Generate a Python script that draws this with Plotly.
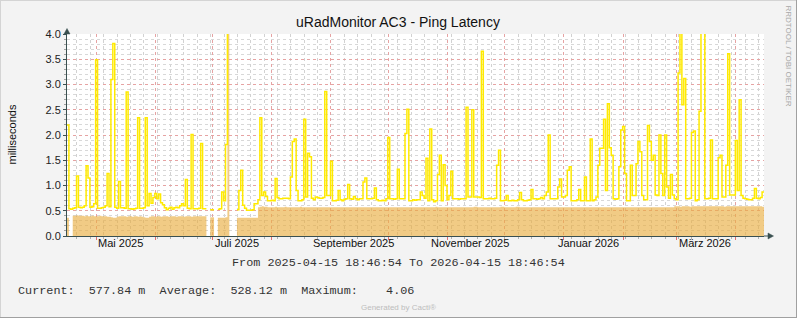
import plotly.graph_objects as go
import pandas as pd

# ---------------- data (daily consolidated values, milliseconds) ----------------
START = "2025-04-15 18:46:54"
END = "2026-04-15 18:46:54"

ping_max = [
    2.20, 0.54, 0.53, 0.55, 0.56, 1.19, 0.57, 0.56, 0.57, 0.60,
    1.39, 1.15, 0.57, 0.58, 0.64, 3.49, 0.55, 0.55, 0.56, 0.57,
    0.60, 1.24, 0.58, 3.10, 3.81, 0.57, 0.55, 1.08, 0.56, 0.56,
    0.55, 2.85, 0.54, 0.54, 0.53, 0.54, 0.55, 2.34, 0.55, 0.55,
    0.56, 2.34, 0.60, 0.84, 0.65, 0.76, 0.84, 0.74, 0.83, 0.66,
    0.62, 0.56, 0.52, 0.55, 0.57, 0.53, 0.56, 0.57, 0.56, 0.60,
    0.64, 0.60, 1.12, 0.55, 0.54, 2.01, 0.54, 0.54, 0.54, 0.55,
    1.83, 0.54, 0.54, None, None, 0.52, 0.52, None, None, 0.53,
    0.54, 0.87, 0.70, 1.81, 4.06, None, None, None, None, 0.52,
    0.90, 1.30, 0.61, 0.55, 0.51, 0.51, 0.51, 0.52, 0.64, 0.64,
    0.72, 2.34, 0.80, 0.87, 0.78, 0.70, 0.70, 0.71, 0.70, 1.14,
    0.76, 0.74, 0.74, 0.75, 0.75, 0.75, 0.74, 1.17, 1.87, 1.92,
    0.90, 0.70, 0.70, 0.72, 2.31, 0.77, 1.64, 1.57, 0.75, 0.72,
    0.77, 0.76, 0.75, 0.75, 0.76, 2.86, 0.80, 0.80, 1.48, 0.70,
    0.70, 0.71, 0.90, 0.72, 0.70, 0.73, 0.74, 1.02, 0.74, 0.73,
    0.78, 0.74, 0.72, 0.74, 0.74, 1.07, 1.15, 0.74, 0.74, 0.74,
    0.75, 0.95, 0.72, 0.70, 0.70, 0.71, 0.70, 0.74, 1.95, 0.74,
    0.74, 0.73, 0.74, 1.32, 0.74, 0.74, 0.74, 2.03, 2.51, 0.70,
    0.70, 0.72, 0.71, 0.72, 0.72, 0.87, 0.80, 0.75, 1.54, 0.70,
    2.12, 0.72, 0.68, 0.70, 1.22, 1.60, 0.70, 1.41, 1.00, 0.72,
    0.80, 1.28, 0.74, 0.74, 0.74, 0.73, 0.74, 0.74, 0.74, 2.55,
    0.77, 0.77, 2.50, 0.77, 0.77, 0.77, 0.76, 3.66, 0.74, 0.74,
    0.74, 0.75, 0.74, 0.74, 0.75, 1.40, 1.70, 0.70, 0.70, 0.71,
    0.80, 0.70, 0.70, 0.71, 0.70, 0.70, 0.72, 0.86, 0.72, 0.70,
    0.70, 0.71, 0.72, 0.92, 0.74, 0.74, 0.73, 0.74, 0.76, 0.74,
    0.80, 0.87, 2.00, 0.74, 0.74, 0.74, 0.74, 0.97, 1.13, 0.77,
    0.77, 0.80, 1.30, 1.37, 0.70, 0.70, 0.70, 0.72, 0.92, 0.70,
    0.70, 1.17, 0.70, 0.70, 1.92, 0.70, 0.72, 0.77, 1.40, 1.74,
    1.74, 2.31, 0.90, 2.62, 1.75, 1.60, 0.74, 0.73, 0.74, 1.37,
    2.10, 2.17, 1.24, 0.70, 0.70, 1.40, 0.80, 0.80, 1.43, 1.87,
    1.67, 0.80, 0.72, 0.72, 2.19, 1.87, 1.50, 1.60, 0.81, 0.80,
    2.00, 1.24, 0.80, 2.00, 0.97, 0.75, 1.22, 0.81, 0.74, 0.72,
    3.23, 4.05, 2.60, 3.12, 0.74, 0.74, 0.75, 2.05, 2.08, 0.70,
    0.72, 2.47, 4.02, 4.04, 0.74, 0.74, 0.75, 1.90, 0.74, 0.74,
    0.74, 1.55, 1.60, 0.77, 0.77, 1.40, 3.61, 0.81, 0.81, 0.81,
    1.89, 0.90, 2.70, 0.80, 0.75, 0.74, 0.73, 0.72, 0.72, 0.75,
    0.94, 0.75, 0.74, 0.76, 0.87,
]

ping_avg = [
    0.36, None, None, 0.40, 0.40, 0.41, 0.40, 0.40, 0.40, 0.39,   # 0
    0.40, 0.39, 0.39, 0.40, 0.39, 0.39, 0.39, 0.40, 0.39, 0.39,   # 10
    0.39, 0.38, 0.38, 0.37, 0.36, 0.36, 0.38, 0.39, 0.39, 0.39,   # 20
    0.39, 0.38, 0.39, 0.39, 0.38, 0.39, 0.39, 0.38, 0.39, 0.38,   # 30
    0.37, 0.36, 0.36, 0.38, 0.39, 0.39, 0.38, 0.39, 0.39, 0.38,   # 40
    0.39, 0.39, 0.39, 0.38, 0.39, 0.39, 0.39, 0.38, 0.39, 0.39,   # 50
    0.39, 0.38, 0.39, 0.39, 0.39, 0.38, 0.39, 0.39, 0.39, 0.39,   # 60
    0.39, 0.39, 0.39, None, None, 0.37, 0.37, None, None, 0.36,   # 70
    0.36, 0.36, 0.36, 0.37, 4.06, None, None, None, None, 0.36,   # 80
    0.36, 0.36, 0.36, 0.36, 0.36, 0.36, 0.36, 0.36, 0.36, 0.36,   # 90
    0.57, 0.58, 0.59, 0.58, 0.58, 0.57, 0.57, 0.57, 0.57, 0.58,   # 100
    0.57, 0.57, 0.57, 0.57, 0.58, 0.57, 0.57, 0.57, 0.57, 0.57,   # 110
    0.57, 0.57, 0.58, 0.57, 0.57, 0.57, 0.57, 0.57, 0.57, 0.57,   # 120
    0.57, 0.57, 0.57, 0.57, 0.57, 0.57, 0.57, 0.57, 0.57, 0.57,   # 130
    0.57, 0.57, 0.57, 0.57, 0.57, 0.57, 0.57, 0.57, 0.57, 0.57,   # 140
    0.57, 0.57, 0.57, 0.57, 0.57, 0.57, 0.57, 0.57, 0.57, 0.57,   # 150
    0.57, 0.57, 0.57, 0.57, 0.57, 0.57, 0.57, 0.57, 0.57, 0.57,   # 160
    0.57, 0.57, 0.57, 0.57, 0.57, 0.57, 0.57, 0.57, 0.57, 0.57,   # 170
    0.57, 0.57, 0.57, 0.57, 0.57, 0.57, 0.57, 0.57, 0.57, 0.57,   # 180
    0.57, 0.57, 0.57, 0.58, 0.57, 0.57, 0.57, 0.57, 0.57, 0.57,   # 190
    0.57, 0.57, 0.57, 0.57, 0.57, 0.57, 0.57, 0.57, 0.57, 0.57,   # 200
    0.57, 0.57, 0.57, 0.58, 0.58, 0.57, 0.57, 0.57, 0.57, 0.57,   # 210
    0.57, 0.57, 0.57, 0.57, 0.57, 0.57, 0.57, 0.58, 0.58, 0.57,   # 220
    0.57, 0.57, 0.57, 0.57, 0.57, 0.58, 0.58, 0.57, 0.57, 0.57,   # 230
    0.57, 0.57, 0.57, 0.57, 0.57, 0.57, 0.57, 0.57, 0.57, 0.57,   # 240
    0.57, 0.57, 0.57, 0.57, 0.57, 0.57, 0.57, 0.57, 0.57, 0.57,   # 250
    0.57, 0.57, 0.57, 0.57, 0.57, 0.57, 0.57, 0.57, 0.57, 0.57,   # 260
    0.57, 0.57, 0.57, 0.57, 0.57, 0.57, 0.57, 0.57, 0.57, 0.57,   # 270
    0.57, 0.57, 0.57, 0.57, 0.57, 0.57, 0.57, 0.57, 0.57, 0.57,   # 280
    0.57, 0.57, 0.57, 0.57, 0.57, 0.57, 0.57, 0.57, 0.57, 0.57,   # 290
    0.57, 0.57, 0.57, 0.57, 0.57, 0.57, 0.57, 0.57, 0.57, 0.57,   # 300
    0.57, 0.57, 0.57, 0.57, 0.57, 0.57, 0.57, 0.57, 0.59, 0.59,   # 310
    0.59, 0.58, 0.59, 0.59, 0.59, 0.59, 0.58, 0.59, 0.59, 0.59,   # 320
    0.59, 0.59, 0.59, 0.59, 0.59, 0.59, 0.59, 0.59, 0.59, 0.59,   # 330
    0.59, 0.59, 0.59, 0.59, 0.58, 0.59, 0.59, 0.59, 0.59, 0.59,   # 340
    0.59, 0.59, 0.59, 0.59, 0.59, 0.59, 0.59, 0.59, 0.59, 0.59,   # 350
    0.59, 0.59, 0.59, 0.59, 0.58,                                 # 360
]

month_grid = ["2025-05-01", "2025-06-01", "2025-07-01", "2025-08-01", "2025-09-01",
              "2025-10-01", "2025-11-01", "2025-12-01", "2026-01-01", "2026-02-01",
              "2026-03-01", "2026-04-01"]
month_labels = ["Mai 2025", "Juli 2025", "September 2025", "November 2025",
                "Januar 2026", "März 2026"]
month_label_dates = ["2025-05-14", "2025-07-14", "2025-09-13", "2025-11-13",
                     "2026-01-14", "2026-03-16"]
week_grid_start = "2025-04-21"

title = "uRadMonitor AC3 - Ping Latency"
y_title = "milliseconds"
period_text = "From 2025-04-15 18:46:54 To 2026-04-15 18:46:54"
stats_text = "Current:  577.84 m  Average:  528.12 m  Maximum:    4.06"
credit_text = "Generated by Cacti®"
side_text = "RRDTOOL / TOBI OETIKER"

assert len(ping_max) == 365 and len(ping_avg) == 365

# ---------------- helpers ----------------
start = pd.Timestamp(START)
times = [start + pd.Timedelta(days=i) for i in range(len(ping_max) + 1)]
tstr = [ts.strftime("%Y-%m-%d %H:%M:%S") for ts in times]


def segments(vals):
    """Contiguous runs of data as step coordinates (each step spans one day)."""
    segs, xs, ys = [], [], []
    for i, v in enumerate(vals):
        if v is None:
            continue
        xs.append(tstr[i])
        ys.append(v)
        if i + 1 == len(vals) or vals[i + 1] is None:
            xs.append(tstr[i + 1])
            ys.append(v)
            segs.append((xs, ys))
            xs, ys = [], []
    return segs


# plot area in pixels
L, R, T, B = 67, 764, 34, 236
W, H = R - L, B - T


def px(x):
    return (x - L) / W


def py(y):
    return (B - y) / H


weeks = pd.date_range(week_grid_start, END, freq="7D").strftime("%Y-%m-%d").tolist()

fig = go.Figure()

for sx, sy in segments(ping_avg):
    fig.add_trace(go.Scatter(
        x=sx, y=sy, mode="lines",
        line=dict(width=0, shape="hv", color="rgba(0,0,0,0)"),
        fill="tozeroy", fillcolor="rgba(233,172,62,0.63)",
        hoverinfo="skip", showlegend=False))

for sx, sy in segments(ping_max):
    fig.add_trace(go.Scatter(
        x=sx, y=sy, mode="lines", line=dict(width=1.5, shape="hv", color="#FFEA00"),
        hoverinfo="skip", showlegend=False))

SANS = "Liberation Sans, Arial, sans-serif"
MONO = "Liberation Mono, Courier New, monospace"
AXC = "#3A5050"

fig.update_layout(
    width=797, height=318,
    margin=dict(l=L, r=797 - R, t=T, b=318 - B, pad=0, autoexpand=False),
    paper_bgcolor="#F3F3F3", plot_bgcolor="#FFFFFF",
    font=dict(family=SANS, size=11, color="#222222"),
    xaxis=dict(
        type="date", range=[START, END],
        tickmode="array", tickvals=month_grid, ticktext=[""] * len(month_grid),
        showgrid=True, gridcolor="#E6A3A3", griddash="dot", gridwidth=1,
        ticks="outside", ticklen=3, tickcolor="#E07070",
        showline=True, linecolor=AXC, linewidth=1, zeroline=False,
        minor=dict(tickmode="array", tickvals=weeks, showgrid=True,
                   gridcolor="#D2D2D2", griddash="dot", gridwidth=1,
                   ticks="outside", ticklen=2, tickcolor="#B0B0B0"),
    ),
    yaxis=dict(
        range=[0, 4.0], tickmode="linear", tick0=0, dtick=0.5, tickformat=".1f",
        showgrid=True, gridcolor="#E6A3A3", griddash="dot", gridwidth=1,
        ticks="outside", ticklen=3, tickcolor=AXC,
        showline=True, linecolor=AXC, linewidth=1, zeroline=False,
        tickfont=dict(family=SANS, size=11, color="#222222"),
        minor=dict(tickmode="linear", tick0=0, dtick=0.1, showgrid=True,
                   gridcolor="#D8D8D8", griddash="dot", gridwidth=1,
                   ticks="outside", ticklen=2, tickcolor="#A0A0A0"),
    ),
)

ann = []
ann.append(dict(text=title, x=px(398), y=py(22), xref="paper", yref="paper",
                showarrow=False, xanchor="center", yanchor="middle",
                font=dict(family=SANS, size=14, color="#111111")))
ann.append(dict(text=y_title, x=px(11.5), y=py(135), xref="paper", yref="paper",
                showarrow=False, textangle=-90, xanchor="center", yanchor="middle",
                font=dict(family=SANS, size=11, color="#111111")))
for lab, d in zip(month_labels, month_label_dates):
    ann.append(dict(text=lab, x=d, y=py(242.5), xref="x", yref="paper",
                    showarrow=False, xanchor="center", yanchor="middle",
                    font=dict(family=SANS, size=11, color="#111111")))
ann.append(dict(text=period_text.replace(" ", "\u00a0"), x=px(398), y=py(263),
                xref="paper", yref="paper", showarrow=False, xanchor="center",
                yanchor="middle", font=dict(family=MONO, size=11.8, color="#333333")))
ann.append(dict(text=stats_text.replace(" ", "\u00a0"), x=px(16), y=py(291),
                xref="paper", yref="paper", showarrow=False, xanchor="left",
                yanchor="middle", font=dict(family=MONO, size=11.8, color="#333333")))
ann.append(dict(text=credit_text, x=px(398.5), y=py(307), xref="paper", yref="paper",
                showarrow=False, xanchor="center", yanchor="middle",
                font=dict(family=SANS, size=8, color="#BDBDBD")))
ann.append(dict(text=side_text, x=px(788.5), y=py(56), xref="paper", yref="paper",
                showarrow=False, textangle=90, xanchor="center", yanchor="middle",
                font=dict(family=SANS, size=8, color="#A8A8A8")))
fig.update_layout(annotations=ann)

shapes = []
# axis arrows
shapes.append(dict(type="line", xref="paper", yref="paper", x0=px(67), x1=px(67),
                   y0=py(34), y1=py(31), line=dict(color=AXC, width=1)))
shapes.append(dict(type="path", xref="paper", yref="paper",
                   path=f"M {px(64)} {py(34)} L {px(70)} {py(34)} L {px(67)} {py(28.5)} Z",
                   fillcolor=AXC, line=dict(color=AXC, width=0.5)))
shapes.append(dict(type="line", xref="paper", yref="paper", x0=px(764), x1=px(769),
                   y0=py(236), y1=py(236), line=dict(color=AXC, width=1)))
shapes.append(dict(type="path", xref="paper", yref="paper",
                   path=f"M {px(768)} {py(233)} L {px(768)} {py(239)} L {px(773.5)} {py(236)} Z",
                   fillcolor=AXC, line=dict(color=AXC, width=0.5)))
# canvas frame
shapes.append(dict(type="line", xref="paper", yref="paper", x0=px(0), x1=px(797),
                   y0=py(0.5), y1=py(0.5), line=dict(color="#D4D4D4", width=1)))
shapes.append(dict(type="line", xref="paper", yref="paper", x0=px(0.5), x1=px(0.5),
                   y0=py(0), y1=py(318), line=dict(color="#D4D4D4", width=1)))
shapes.append(dict(type="line", xref="paper", yref="paper", x0=px(0), x1=px(797),
                   y0=py(317.5), y1=py(317.5), line=dict(color="#A0A0A0", width=1)))
shapes.append(dict(type="line", xref="paper", yref="paper", x0=px(796.5), x1=px(796.5),
                   y0=py(0), y1=py(318), line=dict(color="#A0A0A0", width=1)))
fig.update_layout(shapes=shapes)

fig.write_html("out.html")
